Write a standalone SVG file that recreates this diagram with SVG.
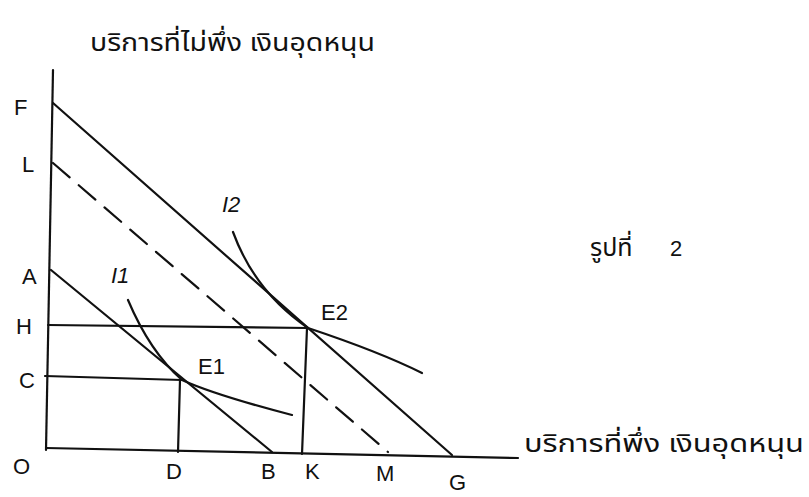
<svg xmlns="http://www.w3.org/2000/svg" width="809" height="497" viewBox="0 0 809 497">
<style>
.ln{stroke:#111;stroke-width:2.2;fill:none;stroke-linecap:round}
.dash{stroke-dasharray:22 12}
.lbl{font-family:"Liberation Sans",Arial,sans-serif;font-size:22px;fill:#111}
.th{font-family:"Noto Sans","Noto Sans Thai","DejaVu Sans",sans-serif;font-size:25px;fill:#111}
</style>
<rect width="809" height="497" fill="#fff"/>
<g id="connectors">
<path class="ln" d="M53 70 L46 450"/>
<path class="ln" d="M46 448 L518 458"/>
<path class="ln" d="M53 103 L452 455"/>
<path class="ln dash" d="M53 163 L388 452"/>
<path class="ln" d="M51 270 L272 452"/>
<path class="ln" d="M48 325 L308 328"/>
<path class="ln" d="M45 376 L182 380"/>
<path class="ln" d="M180 380 L178 452"/>
<path class="ln" d="M307 328 L302 454"/>
<path class="ln" d="M128 300 Q150 352 182 380 Q215 395 292 415"/>
<path class="ln" d="M233 232 Q255 292 308 328 Q380 352 422 373"/>
</g>
<g id="labels">
<text class="lbl" x="14" y="115">F</text>
<text class="lbl" x="22" y="172">L</text>
<text class="lbl" x="22" y="284">A</text>
<text class="lbl" x="16" y="334" font-size="17">H</text>
<text class="lbl" x="19" y="388">C</text>
<text class="lbl" x="13" y="474">O</text>
<text class="lbl" x="166" y="479">D</text>
<text class="lbl" x="261" y="479" font-size="17">B</text>
<text class="lbl" x="305" y="479">K</text>
<text class="lbl" x="376" y="481">M</text>
<text class="lbl" x="449" y="490">G</text>
<text class="lbl" x="111" y="283" font-style="italic">I1</text>
<text class="lbl" x="222" y="212" font-style="italic">I2</text>
<text class="lbl" x="198" y="374">E1</text>
<text class="lbl" x="321" y="320">E2</text>
</g>
<g id="texts">
<text class="th" x="90" y="51" textLength="285" lengthAdjust="spacingAndGlyphs">บริการที่ไม่พึ่ง เงินอุดหนุน</text>
<text class="th" x="524" y="452" textLength="280" lengthAdjust="spacingAndGlyphs">บริการที่พึ่ง เงินอุดหนุน</text>
<text class="th" x="590" y="256" font-size="22">รูปที่</text>
<text class="lbl" x="670" y="256" font-size="18">2</text>
</g>
</svg>
